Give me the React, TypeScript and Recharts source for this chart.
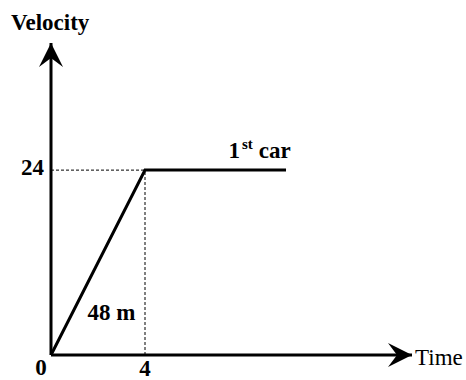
import React from 'react';
import {
  LineChart,
  Line,
  XAxis,
  YAxis,
  ReferenceLine,
  ReferenceDot,
} from 'recharts';

// car 1: speeds up for 4 s, then holds 24
const times = [0, 4, 10];
const velocities = [0, 24, 24];
const xTicks = [0, 4];
const yTicks = [24];
const xMax = 15.36;
const yMax = 40.5;

// where the text notes sit, in data units
const carLabelAt = { t: 9, v: 24 };
const areaLabelAt = { t: 2.57, v: 5.4 };

const data = times.map((t, i) => ({ t, v: velocities[i] }));

const FONT = "Liberation Serif, DejaVu Serif, serif";

const T = (props: any) => (
  <text fontFamily={FONT} fontSize={23} fill="#000" {...props} />
);

const XTick = (props: any) => {
  const { x, y, payload } = props;
  // origin "0" sits down-left of the corner
  const dx = payload.value === 0 ? -10 : 0;
  const dy = payload.value === 0 ? 20 : 21;
  return (
    <T x={x + dx} y={y + dy} textAnchor="middle" fontWeight="bold">
      {payload.value}
    </T>
  );
};

const YTick = (props: any) => {
  const { x, y, payload } = props;
  return (
    <T x={x - 7} y={y + 5} textAnchor="end" fontWeight="bold">
      {payload.value}
    </T>
  );
};

export default function App() {
  return (
    <div style={{ position: 'absolute', left: 0, top: 0, background: '#fff' }}>
      <LineChart
        width={466}
        height={380}
        data={data}
        margin={{ top: 43, right: 54, bottom: 0, left: 0 }}
      >
        <defs>
          <marker
            id="arrow"
            markerUnits="userSpaceOnUse"
            markerWidth={24}
            markerHeight={24}
            viewBox="0 0 24 24"
            refX={24}
            refY={12}
            orient="auto-start-reverse"
          >
            <path d="M0,0 L24,12 L0,24 L9,12 Z" fill="#000" />
          </marker>
        </defs>
        <XAxis
          dataKey="t"
          type="number"
          domain={[0, xMax]}
          ticks={xTicks}
          height={25}
          tickSize={0}
          tickMargin={0}
          tickLine={false}
          tick={<XTick />}
          axisLine={{ stroke: '#000', strokeWidth: 3, markerEnd: 'url(#arrow)' }}
          label={{
            content: (p: any) => (
              <T x={p.viewBox.x + p.viewBox.width + 3} y={p.viewBox.y + 10}>
                Time
              </T>
            ),
          }}
        />
        <YAxis
          type="number"
          domain={[0, yMax]}
          ticks={yTicks}
          width={51}
          tickSize={0}
          tickMargin={0}
          tickLine={false}
          tick={<YTick />}
          axisLine={{ stroke: '#000', strokeWidth: 3, markerStart: 'url(#arrow)' }}
          label={{
            content: (p: any) => (
              <T x={p.viewBox.x + 11} y={p.viewBox.y - 13} fontWeight="bold">
                Velocity
              </T>
            ),
          }}
        />
        <ReferenceLine
          segment={[
            { x: times[0], y: velocities[1] },
            { x: times[1], y: velocities[1] },
          ]}
          stroke="#000"
          strokeWidth={1}
          strokeDasharray="3 2"
        />
        <ReferenceLine
          segment={[
            { x: times[1], y: 0 },
            { x: times[1], y: velocities[1] },
          ]}
          stroke="#000"
          strokeWidth={1}
          strokeDasharray="3 2"
        />
        <Line
          type="linear"
          dataKey="v"
          stroke="#000"
          strokeWidth={3}
          dot={false}
          isAnimationActive={false}
        />
        <ReferenceDot
          x={carLabelAt.t}
          y={carLabelAt.v}
          r={0}
          fill="none"
          stroke="none"
          label={{
            content: (p: any) => (
              <T x={p.viewBox.x - 34} y={p.viewBox.y - 12} fontWeight="bold">
                1
                <tspan fontSize={15} dy={-9} dx={2}>st</tspan>
                <tspan dy={9} dx={6}>car</tspan>
              </T>
            ),
          }}
        />
        <ReferenceDot
          x={areaLabelAt.t}
          y={areaLabelAt.v}
          r={0}
          fill="none"
          stroke="none"
          label={{
            content: (p: any) => (
              <T x={p.viewBox.x} y={p.viewBox.y + 7} textAnchor="middle" fontWeight="bold">
                48 m
              </T>
            ),
          }}
        />
      </LineChart>
    </div>
  );
}
